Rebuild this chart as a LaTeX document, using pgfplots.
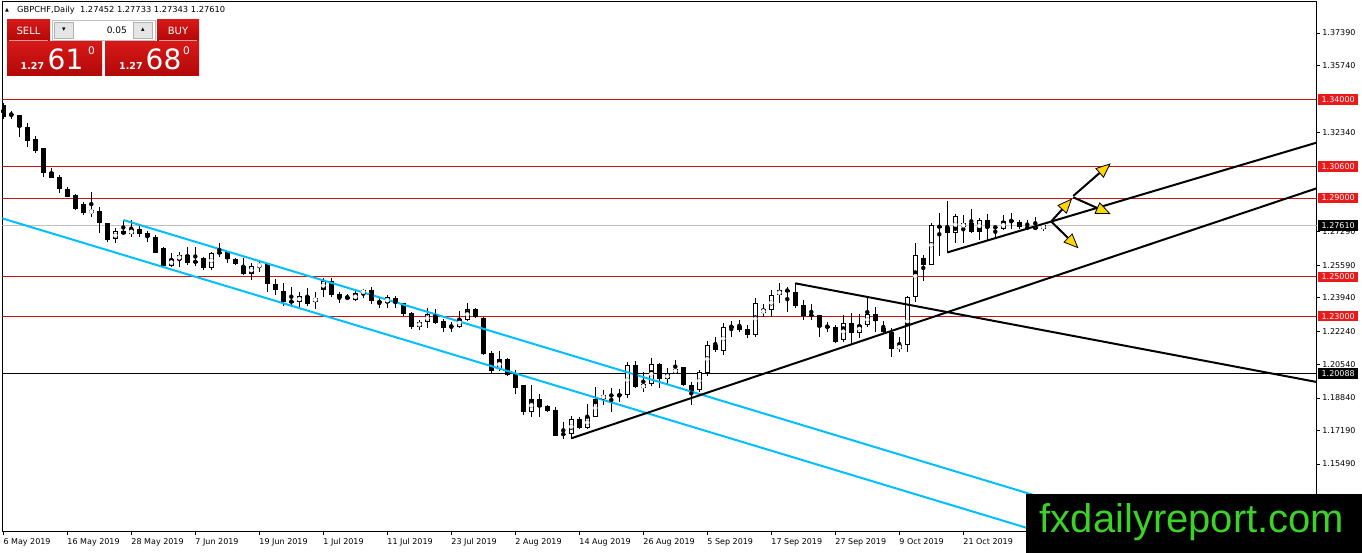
\documentclass[border=0pt]{standalone}
\usepackage{fontspec}
\setmainfont{DejaVu Sans}
\newfontfamily\arialfont{Liberation Sans}
\usepackage{pgfplots}
\pgfplotsset{compat=1.18}
\usepackage{pgfplotstable}
\usetikzlibrary{arrows.meta}
\definecolor{lnred}{RGB}{200,20,20}
\definecolor{lblred}{RGB}{235,25,25}
\definecolor{dsb}{RGB}{0,191,255}
\definecolor{curgray}{RGB}{192,192,192}
\definecolor{wmgreen}{RGB}{60,210,40}
\definecolor{btnred}{RGB}{214,24,24}
\definecolor{btnredd}{RGB}{178,8,8}
\definecolor{arrowyellow}{RGB}{255,215,0}
\newcommand{\rlab}[1]{{\setlength{\fboxsep}{0pt}\colorbox{lblred}{\makebox[40pt]{\rule[-2.4pt]{0pt}{10.5pt}\textcolor{white}{#1}}}}}
\newcommand{\blab}[1]{{\setlength{\fboxsep}{0pt}\colorbox{black}{\makebox[40pt]{\rule[-2.4pt]{0pt}{10.5pt}\textcolor{white}{#1}}}}}

\pgfplotstableread{
i o h l c
0 1.3373 1.3382 1.3300 1.3311
1 1.3326 1.3344 1.3300 1.3325
2 1.3322 1.3322 1.3212 1.3260
3 1.3260 1.3280 1.3161 1.3192
4 1.3199 1.3216 1.3131 1.3139
5 1.3153 1.3153 1.3006 1.3029
6 1.3034 1.3052 1.3001 1.3002
7 1.3006 1.3018 1.2924 1.2945
8 1.2946 1.2955 1.2904 1.2907
9 1.2916 1.2921 1.2840 1.2846
10 1.2869 1.2882 1.2814 1.2823
12 1.2836 1.2856 1.2724 1.2772
13 1.2775 1.2775 1.2679 1.2687
15 1.2733 1.2789 1.2713 1.2716
17 1.2742 1.2763 1.2704 1.2718
18 1.2724 1.2734 1.2679 1.2701
19 1.2704 1.2713 1.2619 1.2620
20 1.2645 1.2650 1.2552 1.2555
23 1.2611 1.2650 1.2560 1.2572
24 1.2577 1.2650 1.2557 1.2576
25 1.2594 1.2602 1.2535 1.2546
27 1.2626 1.2670 1.2602 1.2620
28 1.2625 1.2628 1.2569 1.2589
29 1.2591 1.2594 1.2560 1.2564
30 1.2555 1.2594 1.2509 1.2513
33 1.2564 1.2569 1.2425 1.2462
34 1.2462 1.2489 1.2408 1.2433
35 1.2428 1.2467 1.2353 1.2374
36 1.2376 1.2450 1.2348 1.2372
38 1.2403 1.2445 1.2353 1.2364
41 1.2479 1.2496 1.2399 1.2408
42 1.2411 1.2421 1.2366 1.2394
43 1.2399 1.2411 1.2382 1.2387
46 1.2433 1.2450 1.2361 1.2377
47 1.2379 1.2391 1.2343 1.2366
49 1.2391 1.2403 1.2340 1.2366
50 1.2366 1.2369 1.2302 1.2311
51 1.2315 1.2323 1.2233 1.2247
54 1.2311 1.2337 1.2259 1.2264
55 1.2275 1.2286 1.2221 1.2242
56 1.2249 1.2272 1.2221 1.2248
59 1.2337 1.2343 1.2293 1.2294
60 1.2289 1.2297 1.2103 1.2108
61 1.2115 1.2123 1.2010 1.2023
63 1.2081 1.2086 1.1996 1.2001
64 1.2013 1.2027 1.1905 1.1937
65 1.1950 1.1950 1.1798 1.1815
67 1.1878 1.1905 1.1786 1.1840
68 1.1844 1.1849 1.1815 1.1820
69 1.1823 1.1840 1.1690 1.1691
70 1.1701 1.1764 1.1676 1.1700
72 1.1776 1.1789 1.1725 1.1730
76 1.1898 1.1934 1.1815 1.1897
77 1.1903 1.1929 1.1866 1.1894
79 1.2052 1.2074 1.1934 1.1939
82 1.2057 1.2064 1.1934 1.1979
85 1.2040 1.2040 1.1945 1.1950
86 1.1950 1.1967 1.1849 1.1916
89 1.2154 1.2196 1.2120 1.2128
91 1.2248 1.2277 1.2193 1.2246
92 1.2250 1.2281 1.2221 1.2230
93 1.2233 1.2255 1.2188 1.2204
98 1.2433 1.2450 1.2323 1.2428
99 1.2425 1.2467 1.2340 1.2352
100 1.2357 1.2382 1.2281 1.2301
101 1.2306 1.2362 1.2281 1.2305
102 1.2306 1.2306 1.2196 1.2244
103 1.2248 1.2272 1.2221 1.2246
104 1.2247 1.2255 1.2162 1.2170
106 1.2264 1.2318 1.2154 1.2216
109 1.2310 1.2348 1.2221 1.2277
110 1.2239 1.2277 1.2213 1.2221
111 1.2221 1.2239 1.2094 1.2132
115 1.2594 1.2611 1.2479 1.2560
117 1.2756 1.2826 1.2606 1.2754
118 1.2755 1.2887 1.2620 1.2724
121 1.2772 1.2843 1.2721 1.2729
123 1.2789 1.2819 1.2687 1.2747
124 1.2753 1.2758 1.2701 1.2751
126 1.2789 1.2823 1.2742 1.2780
127 1.2780 1.2789 1.2742 1.2755
128 1.2755 1.2789 1.2742 1.2745
129 1.2752 1.2806 1.2738 1.2745
}\bear

\pgfplotstableread{
i o h l c
11 1.2823 1.2933 1.2806 1.2840
14 1.2691 1.2747 1.2674 1.2731
16 1.2716 1.2789 1.2701 1.2742
21 1.2557 1.2620 1.2552 1.2589
22 1.2586 1.2628 1.2552 1.2611
26 1.2546 1.2628 1.2535 1.2620
31 1.2513 1.2569 1.2484 1.2555
32 1.2557 1.2582 1.2526 1.2560
37 1.2371 1.2425 1.2343 1.2403
39 1.2374 1.2425 1.2337 1.2394
40 1.2433 1.2493 1.2399 1.2479
44 1.2382 1.2428 1.2377 1.2416
45 1.2416 1.2438 1.2391 1.2432
48 1.2366 1.2408 1.2340 1.2396
52 1.2247 1.2281 1.2230 1.2269
53 1.2269 1.2343 1.2242 1.2311
57 1.2247 1.2326 1.2239 1.2286
58 1.2281 1.2366 1.2275 1.2337
62 1.2030 1.2123 1.2023 1.2081
66 1.1815 1.1950 1.1789 1.1878
71 1.1701 1.1793 1.1674 1.1776
73 1.1730 1.1854 1.1725 1.1789
74 1.1789 1.1939 1.1788 1.1878
75 1.1881 1.1925 1.1849 1.1898
78 1.1899 1.2069 1.1883 1.2052
80 1.1934 1.2018 1.1916 1.1954
81 1.1954 1.2086 1.1945 1.2057
83 1.1979 1.2035 1.1950 1.2010
84 1.2013 1.2077 1.2010 1.2030
87 1.1925 1.2027 1.1916 1.2018
88 1.2010 1.2175 1.1996 1.2154
90 1.2125 1.2267 1.2103 1.2247
94 1.2204 1.2391 1.2196 1.2369
95 1.2315 1.2362 1.2298 1.2335
96 1.2331 1.2433 1.2298 1.2406
97 1.2406 1.2470 1.2369 1.2433
105 1.2179 1.2306 1.2170 1.2264
107 1.2216 1.2311 1.2188 1.2255
108 1.2255 1.2394 1.2247 1.2310
112 1.2132 1.2196 1.2120 1.2154
113 1.2154 1.2403 1.2120 1.2396
114 1.2396 1.2670 1.2374 1.2611
116 1.2560 1.2772 1.2559 1.2763
119 1.2724 1.2819 1.2670 1.2809
120 1.2752 1.2814 1.2670 1.2772
122 1.2729 1.2797 1.2687 1.2789
125 1.2742 1.2814 1.2738 1.2784
130 1.27452 1.27733 1.27343 1.27610
}\bull

\begin{document}
\begin{tikzpicture}
\useasboundingbox (0pt,0pt) rectangle (1362pt,553pt);
\begin{axis}[
  at={(2.3pt,21pt)}, anchor=south west,
  scale only axis, width=1314.4pt, height=530.5pt,
  xmin=-0.125, xmax=164.175, ymin=1.12034, ymax=1.38991,
  axis line style={line width=1pt, black},
  tick style={line width=0.8pt, black},
  tick align=outside, major tick length=3.5pt,
  xtick pos=left, ytick pos=right,
  xticklabel pos=left, yticklabel pos=right,
  xtick={0,8,...,120},
  xticklabels={6 May 2019,16 May 2019,28 May 2019,7 Jun 2019,19 Jun 2019,1 Jul 2019,11 Jul 2019,23 Jul 2019,2 Aug 2019,14 Aug 2019,26 Aug 2019,5 Sep 2019,17 Sep 2019,27 Sep 2019,9 Oct 2019,21 Oct 2019},
  xticklabel style={anchor=north west, inner sep=0pt, yshift=-2.5pt, font=\fontsize{8}{9.6}\selectfont},
  ytick={1.37390,1.35740,1.32340,1.27290,1.25590,1.23940,1.22240,1.20540,1.18840,1.17190,1.15490,1.13790},
  yticklabels={1.37390,1.35740,1.32340,1.27290,1.25590,1.23940,1.22240,1.20540,1.18840,1.17190,1.15490,1.13790},
  yticklabel style={anchor=west, inner sep=0pt, xshift=2pt, font=\fontsize{8}{9.6}\selectfont},
  extra y ticks={1.34,1.306,1.29,1.25,1.23,1.2761,1.20088},
  extra y tick labels={\rlab{1.34000},\rlab{1.30600},\rlab{1.29000},\rlab{1.25000},\rlab{1.23000},\blab{1.27610},\blab{1.20088}},
  extra y tick style={major tick length=0pt, yticklabel style={xshift=-0.7pt}},
  clip=true,
]
% horizontal levels
\addplot[lnred, line width=1pt, forget plot] coordinates {(-1,1.34) (166,1.34)};
\addplot[lnred, line width=1pt, forget plot] coordinates {(-1,1.306) (166,1.306)};
\addplot[lnred, line width=1pt, forget plot] coordinates {(-1,1.29) (166,1.29)};
\addplot[lnred, line width=1pt, forget plot] coordinates {(-1,1.25) (166,1.25)};
\addplot[lnred, line width=1pt, forget plot] coordinates {(-1,1.23) (166,1.23)};
\addplot[curgray, line width=1pt, forget plot] coordinates {(-1,1.2761) (166,1.2761)};
\addplot[black, line width=0.8pt, forget plot] coordinates {(-1,1.20088) (166,1.20088)};
% wicks
\addplot[black, only marks, mark=none, forget plot, error bars/.cd, y dir=both, y explicit, error mark=none, error bar style={line width=1pt, black}]
  table[x=i, y expr={(\thisrow{h}+\thisrow{l})/2}, y error expr={(\thisrow{h}-\thisrow{l})/2}] {\bear};
\addplot[black, only marks, mark=none, forget plot, error bars/.cd, y dir=both, y explicit, error mark=none, error bar style={line width=1pt, black}]
  table[x=i, y expr={(\thisrow{h}+\thisrow{l})/2}, y error expr={(\thisrow{h}-\thisrow{l})/2}] {\bull};
% bodies
\addplot[black, only marks, mark=none, forget plot, error bars/.cd, y dir=both, y explicit, error mark=none, error bar style={line width=5pt, black, line cap=butt}]
  table[x=i, y expr={(\thisrow{o}+\thisrow{c})/2}, y error expr={max(abs(\thisrow{o}-\thisrow{c})/2,0.00025)}] {\bear};
\addplot[black, only marks, mark=none, forget plot, error bars/.cd, y dir=both, y explicit, error mark=none, error bar style={line width=5pt, black, line cap=butt}]
  table[x=i, y expr={(\thisrow{o}+\thisrow{c})/2}, y error expr={max(abs(\thisrow{c}-\thisrow{o})/2,0.00025)}] {\bull};
\addplot[white, only marks, mark=none, forget plot, error bars/.cd, y dir=both, y explicit, error mark=none, error bar style={line width=3pt, white, line cap=butt}]
  table[x=i, y expr={(\thisrow{o}+\thisrow{c})/2}, y error expr={max((\thisrow{c}-\thisrow{o})/2-0.0005,0)}] {\bull};
% channel
\addplot[dsb, line width=2pt, forget plot] coordinates {(15,1.27888) (135,1.13152)};
\addplot[dsb, line width=2pt, forget plot] coordinates {(-1,1.28077) (135,1.11377)};
% trend lines
\addplot[black, line width=2pt, forget plot] coordinates {(71,1.16795) (165,1.29611)};
\addplot[black, line width=2pt, forget plot] coordinates {(118,1.2624) (165,1.3192)};
\addplot[black, line width=2pt, forget plot] coordinates {(99,1.2467) (165,1.19593)};
% arrows
\addplot[black, line width=2pt, forget plot, -{Triangle[length=15pt,width=12.5pt,fill=arrowyellow,line width=0.8pt]}] coordinates {(131.05,1.2784) (133.6,1.2898)};
\addplot[black, line width=2pt, forget plot, -{Triangle[length=15pt,width=12.5pt,fill=arrowyellow,line width=0.8pt]}] coordinates {(133.75,1.2911) (138.43,1.3077)};
\addplot[black, line width=2pt, forget plot, -{Triangle[length=15pt,width=12.5pt,fill=arrowyellow,line width=0.8pt]}] coordinates {(133.75,1.2904) (138.43,1.2819)};
\addplot[black, line width=2pt, forget plot, -{Triangle[length=15pt,width=12.5pt,fill=arrowyellow,line width=0.8pt]}] coordinates {(131.05,1.2779) (134.4,1.2645)};
\end{axis}
% header
\node[anchor=base west, inner sep=0pt, font=\fontsize{5}{6}\selectfont] at (5pt,541pt) {▲};
\node[anchor=base west, inner sep=0pt, font=\fontsize{8.3}{9.6}\selectfont] at (17pt,540pt) {GBPCHF,Daily\ \ 1.27452 1.27733 1.27343 1.27610};
% trade panel
\shade[top color=btnred, bottom color=btnredd] (7pt,512pt) rectangle (50pt,533pt);
\draw[white!55!btnred, line width=0.8pt] (9pt,512.5pt) -- (48pt,512.5pt);
\node[text=white, font=\fontsize{10}{12}\selectfont, inner sep=0pt] at (28.5pt,522.5pt) {SELL};
\draw[gray!50, fill=white, line width=0.8pt] (52pt,513pt) rectangle (155pt,533pt);
\draw[gray!60, fill=gray!20, line width=0.6pt] (54.5pt,515pt) rectangle (73.5pt,531pt);
\draw[gray!60, fill=gray!20, line width=0.6pt] (133.5pt,515pt) rectangle (152.5pt,531pt);
\node[font=\fontsize{7}{8}\selectfont, inner sep=0pt] at (64pt,523pt) {▾};
\node[font=\fontsize{7}{8}\selectfont, inner sep=0pt] at (143pt,523pt) {▴};
\node[anchor=base east, font=\fontsize{9}{10}\selectfont, inner sep=0pt] at (127pt,519.5pt) {0.05};
\shade[top color=btnred, bottom color=btnredd] (157pt,512pt) rectangle (199pt,533pt);
\draw[white!55!btnred, line width=0.8pt] (159pt,512.5pt) -- (197pt,512.5pt);
\node[text=white, font=\fontsize{10}{12}\selectfont, inner sep=0pt] at (178pt,522.5pt) {BUY};
\shade[top color=btnred, bottom color=btnredd] (7pt,477pt) rectangle (102pt,511pt);
\shade[top color=btnred, bottom color=btnredd] (105pt,477pt) rectangle (199pt,511pt);
\node[anchor=base west, text=white, font=\bfseries\fontsize{9.5}{11}\selectfont, inner sep=0pt] at (20.5pt,483.5pt) {1.27};
\node[anchor=base west, text=white, font=\fontsize{28}{30}\selectfont, inner sep=0pt] at (47.5pt,483.5pt) {61};
\node[anchor=base west, text=white, font=\fontsize{10.5}{12}\selectfont, inner sep=0pt] at (88pt,498pt) {0};
\node[anchor=base west, text=white, font=\bfseries\fontsize{9.5}{11}\selectfont, inner sep=0pt] at (119pt,483.5pt) {1.27};
\node[anchor=base west, text=white, font=\fontsize{28}{30}\selectfont, inner sep=0pt] at (145.5pt,483.5pt) {68};
\node[anchor=base west, text=white, font=\fontsize{10.5}{12}\selectfont, inner sep=0pt] at (183pt,498pt) {0};
% watermark
\fill[black] (1026pt,0pt) rectangle (1362pt,59pt);
\node[anchor=base west, text=wmgreen, font=\arialfont\fontsize{40}{44}\selectfont, inner sep=0pt] at (1039.5pt,20.3pt) {fxdailyreport.com};
\end{tikzpicture}
\end{document}
